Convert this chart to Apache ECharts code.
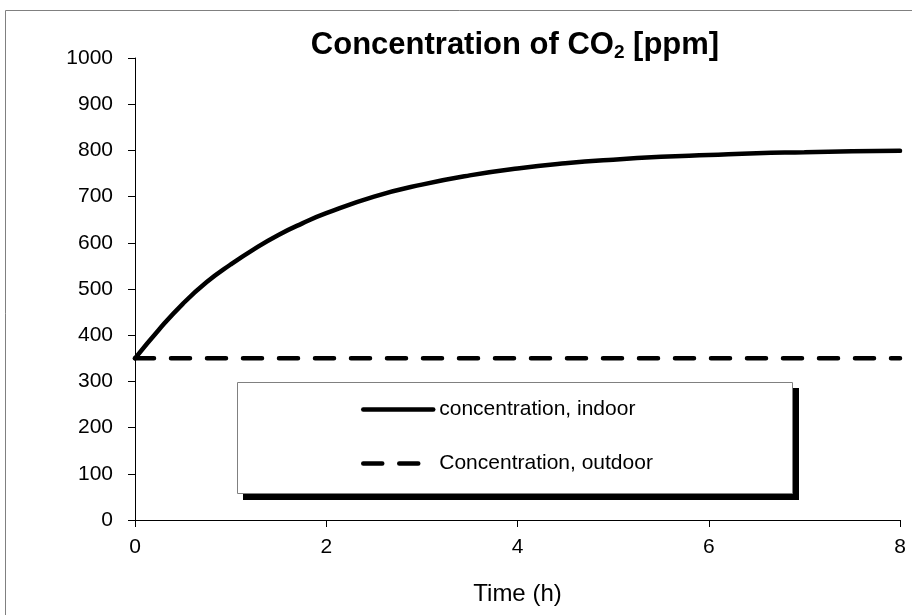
<!DOCTYPE html>
<html>
<head>
<meta charset="utf-8">
<script src="https://cdn.jsdelivr.net/npm/echarts@6/dist/echarts.min.js"></script>
<style>
    html, body { margin: 0; padding: 0; background: #fff; }
    #chart { width: 912px; height: 615px; }
</style>
</head>
<body>
<div id="chart"></div>
<script>
// Time in hours and CO2 concentration in ppm
const timeHours = [0, 0.25, 0.5, 0.75, 1, 1.25, 1.5, 1.75, 2, 2.5, 3, 3.5, 4, 4.5, 5, 5.5, 6, 6.5, 7, 7.5, 8];
const indoorPpm = [350, 412, 468, 515, 553, 587, 617, 642, 664, 700, 726, 746, 761, 772, 780, 786, 790, 794, 796, 798, 799];
const outdoorPpm = [350, 350, 350, 350, 350, 350, 350, 350, 350, 350, 350, 350, 350, 350, 350, 350, 350, 350, 350, 350, 350];
const seriesNames = ['concentration, indoor', 'Concentration, outdoor'];

const FONT = '"Liberation Sans", Arial, sans-serif';

document.addEventListener('DOMContentLoaded', function() {
    const chart = echarts.init(document.getElementById('chart'), null, { renderer: 'canvas' });

    const option = {
        animation: false,
        backgroundColor: '#fff',
        title: {
            text: '{a|Concentration of CO}{s|2}{a| [ppm]}',
            left: 510,
            textAlign: 'center',
            top: 24,
            textStyle: {
                rich: {
                    a: { fontFamily: FONT, fontSize: 31, fontWeight: 'bold', color: '#000' },
                    s: { fontFamily: FONT, fontSize: 19, fontWeight: 'bold', color: '#000', padding: [14, 0, 0, 0] }
                }
            }
        },
        graphic: [
            // outer chart border
            { type: 'rect', shape: { x: 5.5, y: 10.5, width: 930, height: 640 },
              style: { fill: 'none', stroke: '#808080', lineWidth: 1 }, z: 0 },
            // legend shadow
            { type: 'rect', shape: { x: 243, y: 388, width: 556, height: 112 },
              style: { fill: '#000' }, z: 5 },
            // legend box
            { type: 'rect', shape: { x: 237.5, y: 382.5, width: 555, height: 111 },
              style: { fill: '#fff', stroke: '#808080', lineWidth: 1 }, z: 6 }
        ],
        legend: {
            orient: 'vertical',
            left: 361,
            top: 399,
            padding: 0,
            itemWidth: 70,
            itemHeight: 14,
            itemGap: 33,
            z: 10,
            data: seriesNames,
            itemStyle: { color: 'transparent', borderColor: 'transparent', borderWidth: 0 },
            lineStyle: { width: 4.5 },
            textStyle: { fontFamily: FONT, fontSize: 21, color: '#000', padding: [0, 0, 0, 1] }
        },
        grid: { left: 135, right: 12, top: 58, bottom: 95 },
        xAxis: {
            type: 'value',
            min: 0, max: 8, interval: 2,
            name: 'Time (h)',
            nameLocation: 'middle',
            nameGap: 62,
            nameTextStyle: { fontFamily: FONT, fontSize: 24, color: '#000' },
            axisLine: { onZero: false, lineStyle: { color: '#000', width: 1 } },
            axisTick: { show: true, length: 7, lineStyle: { color: '#000' } },
            axisLabel: { fontFamily: FONT, fontSize: 21, color: '#000', margin: 17 },
            splitLine: { show: false }
        },
        yAxis: {
            type: 'value',
            min: 0, max: 1000, interval: 100,
            axisLine: { show: true, lineStyle: { color: '#000', width: 1 } },
            axisTick: { show: true, length: 7, lineStyle: { color: '#000' } },
            axisLabel: {
                fontFamily: FONT, fontSize: 21, color: '#000', margin: 22,
                formatter: function(v) { return String(v); }
            },
            splitLine: { show: false }
        },
        series: [
            {
                name: seriesNames[0],
                type: 'line',
                data: timeHours.map((t, i) => [t, indoorPpm[i]]),
                smooth: true,
                symbol: 'none',
                lineStyle: { color: '#000', width: 4.5, cap: 'round' },
                itemStyle: { color: '#000' },
                z: 3
            },
            {
                name: seriesNames[1],
                type: 'line',
                data: timeHours.map((t, i) => [t, outdoorPpm[i]]),
                symbol: 'none',
                lineStyle: { color: '#000', width: 4.5, type: [19, 17], cap: 'round' },
                itemStyle: { color: '#000' },
                z: 2
            }
        ]
    };

    chart.setOption(option);
});
</script>
</body>
</html>
